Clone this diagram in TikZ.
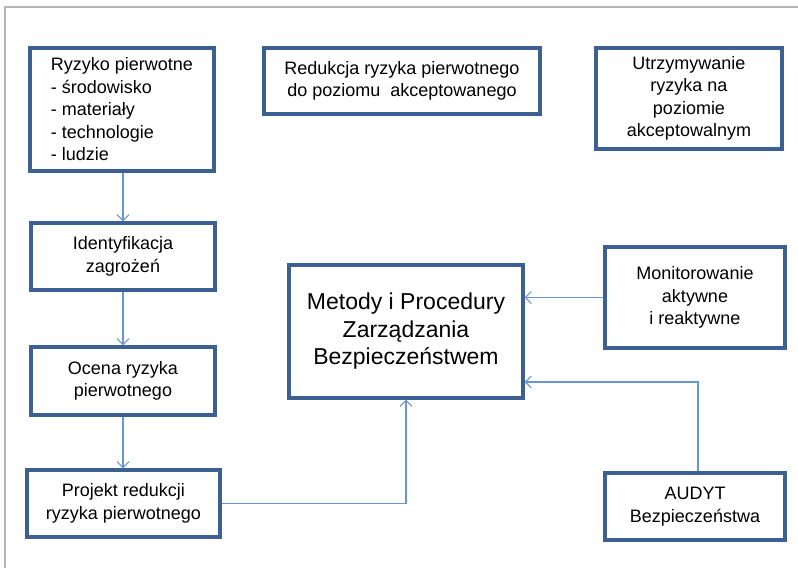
\documentclass[tikz,border=0pt]{standalone}
\usepackage{fontspec}
\setmainfont{Liberation Sans}
\usetikzlibrary{arrows.meta}
\definecolor{boxblue}{RGB}{60,96,146}
\definecolor{linkblue}{RGB}{105,150,210}
\definecolor{framegray}{RGB}{182,182,182}
\tikzset{
  box/.style={draw=boxblue, line width=3.2pt, fill=white, align=center, inner sep=0pt,
    font=\fontsize{18}{22.5}\selectfont},
  bigbox/.style={box, font=\fontsize{23}{27.5}\selectfont},
  conn/.style={draw=linkblue, line width=1.1pt, -{Straight Barb[length=6pt,width=12pt]}},
}
\begin{document}
\begin{tikzpicture}[x=1pt,y=-1pt]
\useasboundingbox (0,0) rectangle (798,573);
\draw[framegray, line width=1.6pt] (5,568) -- (5,7) -- (798,7);

\node[box, minimum width=184, minimum height=123, align=left] (b1) at (122,109.5)
  {Ryzyko pierwotne\\- środowisko\\- materiały\\- technologie\\- ludzie};
\node[box, minimum width=276, minimum height=66] (b2) at (402,81)
  {Redukcja ryzyka pierwotnego\\do poziomu\ \ akceptowanego};
\node[box, minimum width=186, minimum height=101] (b3) at (689,98.5)
  {Utrzymywanie\\ryzyka na\\poziomie\\akceptowalnym};
\node[box, minimum width=184, minimum height=67] (b4) at (123,256.5)
  {Identyfikacja\\zagrożeń};
\node[bigbox, minimum width=234, minimum height=133] (b5) at (406,331.5)
  {Metody i Procedury\\Zarządzania\\Bezpieczeństwem};
\node[box, minimum width=180, minimum height=101] (b6) at (695,297.5)
  {Monitorowanie\\aktywne\\i reaktywne};
\node[box, minimum width=184, minimum height=68] (b7) at (123,381)
  {Ocena ryzyka\\pierwotnego};
\node[box, minimum width=193, minimum height=67] (b8) at (123.5,503.5)
  {Projekt redukcji\\ryzyka pierwotnego};
\node[box, minimum width=180, minimum height=67] (b9) at (695,506.5)
  {AUDYT\\Bezpieczeństwa};

\coordinate (e9) at ([yshift=-50.5pt]b5.east);
\draw[conn] (b1.south -| b4.north) -- (b4.north);
\draw[conn] (b4) -- (b7);
\draw[conn] (b7.south) -- (b7.south |- b8.north);
\draw[conn] (b8.east) -| (b5.south);
\draw[conn] (b6.west) -- (b6.west -| b5.east);
\draw[conn] ([xshift=3pt]b9.north) |- (e9);
\end{tikzpicture}
\end{document}
